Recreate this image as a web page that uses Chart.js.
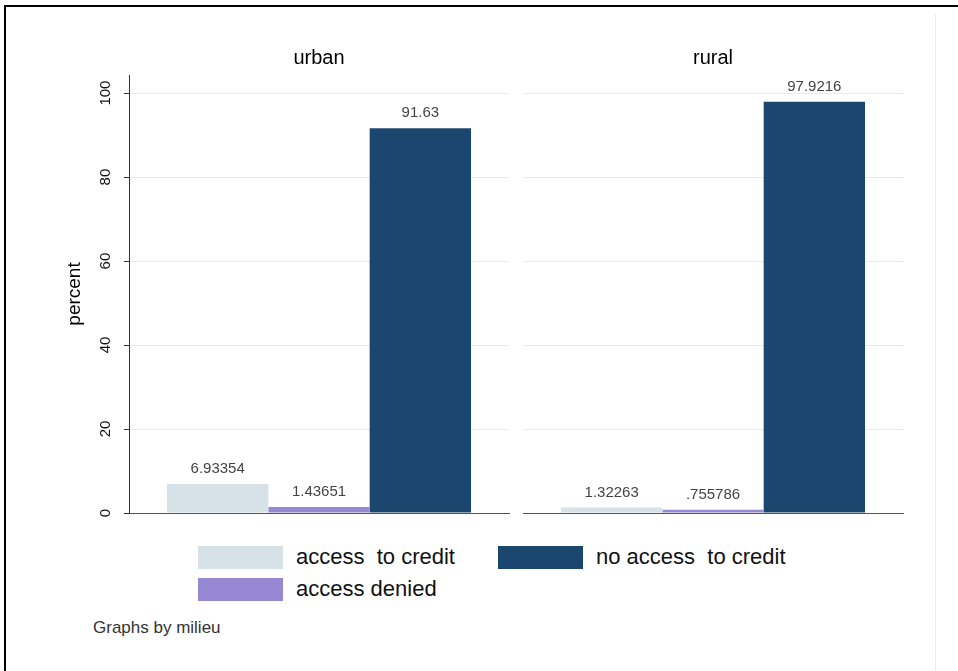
<!DOCTYPE html>
<html>
<head>
<meta charset="utf-8">
<script src="https://cdn.jsdelivr.net/npm/chart.js@4.4.1/dist/chart.umd.min.js"></script>
<style>
  html, body { margin: 0; padding: 0; background: #fff; }
  #page { position: relative; width: 958px; height: 671px; overflow: hidden;
          font-family: "Liberation Sans", Arial, sans-serif; }
  #frame { position: absolute; left: 4px; top: 5px; width: 980px; height: 700px;
           border-top: 2px solid #000; border-left: 2px solid #000; }
  #edge { position: absolute; left: 935px; top: 14px; width: 1px; height: 657px; background: #ececec; }
  #left { position: absolute; left: 0; top: 0; }
  #right { position: absolute; left: 515px; top: 0; }
  .item { position: absolute; height: 24px; display: flex; align-items: center;
          white-space: pre; font-size: 22px; color: #111; }
  .swatch { width: 85px; height: 23px; margin-right: 13px; }
  #note { position: absolute; left: 93px; top: 618px; font-size: 17px; color: #333; }
</style>
</head>
<body>
<div id="page">
  <div id="frame"></div>
  <div id="edge"></div>
  <canvas id="left" width="515" height="533"></canvas>
  <canvas id="right" width="443" height="533"></canvas>
  <div id="legend"></div>
  <div id="note">Graphs by milieu</div>
</div>
<script>
// Data
const panels = ['urban', 'rural'];
const seriesLabels = ['access  to credit', 'access denied', 'no access  to credit'];
const urbanValues = [6.93354, 1.43651, 91.63];
const ruralValues = [1.32263, 0.755786, 97.9216];
const yTicks = [0, 20, 40, 60, 80, 100];
const yMax = 104.3;

const seriesColors = ['#d6e1e8', '#9788d3', '#1b466e'];

Chart.defaults.font.family = '"Liberation Sans", Arial, sans-serif';
Chart.defaults.color = '#222';

// Stata-ish %9.0g: 6 significant digits, no leading zero
function stataFormat(v) {
    let s = v.toPrecision(6);
    if (s.indexOf('.') >= 0) s = s.replace(/0+$/, '').replace(/\.$/, '');
    return s.replace(/^0\./, '.');
}

// Bar labels above each bar
const valueLabels = {
    id: 'valueLabels',
    afterDatasetsDraw(chart) {
        const ctx = chart.ctx;
        ctx.save();
        ctx.font = '15px "Liberation Sans", Arial, sans-serif';
        ctx.fillStyle = '#444';
        ctx.textAlign = 'center';
        ctx.textBaseline = 'middle';
        chart.data.datasets.forEach((ds, i) => {
            chart.getDatasetMeta(i).data.forEach((bar, j) => {
                ctx.fillText(stataFormat(ds.data[j]), bar.x, bar.y - 15);
            });
        });
        ctx.restore();
    }
};

function buildChart(id, title, values, withAxis) {
    const datasets = seriesLabels.map((label, i) => ({
        label: label,
        data: [values[i]],
        backgroundColor: seriesColors[i],
        borderWidth: 0,
        categoryPercentage: 0.8,
        barPercentage: 1.0
    }));

    const yAxis = {
        min: 0,
        max: yMax,
        afterBuildTicks: s => { s.ticks = yTicks.map(v => ({ value: v })); },
        grid: { color: '#e2ebf0', lineWidth: 1 }
    };
    if (withAxis) {
        yAxis.afterFit = s => { s.width = 129; };
        yAxis.grid.tickColor = '#333';
        yAxis.grid.tickLength = 5;
        yAxis.border = { display: true, color: '#333', width: 1 };
        yAxis.ticks = { minRotation: 90, maxRotation: 90, crossAlign: 'center', padding: 6,
                        font: { size: 15 }, color: '#111' };
        yAxis.title = { display: true, text: 'percent', font: { size: 19 }, color: '#000',
                        padding: { top: 63, bottom: 0 } };
    } else {
        yAxis.afterFit = s => { s.width = 8; };
        yAxis.grid.drawTicks = false;
        yAxis.border = { display: false };
        yAxis.ticks = { display: false };
    }

    return new Chart(document.getElementById(id), {
        type: 'bar',
        data: { labels: [''], datasets: datasets },
        options: {
            responsive: false,
            animation: false,
            devicePixelRatio: 1,
            layout: { padding: { left: 0, right: withAxis ? 6 : 55, top: 0, bottom: 20 } },
            plugins: {
                legend: { display: false },
                tooltip: { enabled: false },
                title: {
                    display: true,
                    text: title,
                    fullSize: false,
                    color: '#000',
                    font: { size: 20, weight: 'normal' },
                    padding: { top: 46, bottom: 5 }
                }
            },
            scales: {
                x: {
                    grid: { display: false, drawTicks: false },
                    ticks: { display: false },
                    border: { display: true, color: '#555', width: 1 }
                },
                y: yAxis
            }
        },
        plugins: [valueLabels]
    });
}

const urbanChart = buildChart('left', panels[0], urbanValues, true);
const ruralChart = buildChart('right', panels[1], ruralValues, false);

// Legend built from the chart's datasets (two columns, Stata order)
const legendSlots = [
    { idx: 0, left: 198, top: 545 },
    { idx: 2, left: 498, top: 545 },
    { idx: 1, left: 198, top: 577 }
];
const legendEl = document.getElementById('legend');
legendSlots.forEach(slot => {
    const ds = urbanChart.data.datasets[slot.idx];
    const item = document.createElement('div');
    item.className = 'item';
    item.style.left = slot.left + 'px';
    item.style.top = slot.top + 'px';
    const sw = document.createElement('span');
    sw.className = 'swatch';
    sw.style.background = ds.backgroundColor;
    item.appendChild(sw);
    item.appendChild(document.createTextNode(ds.label));
    legendEl.appendChild(item);
});
</script>
</body>
</html>
